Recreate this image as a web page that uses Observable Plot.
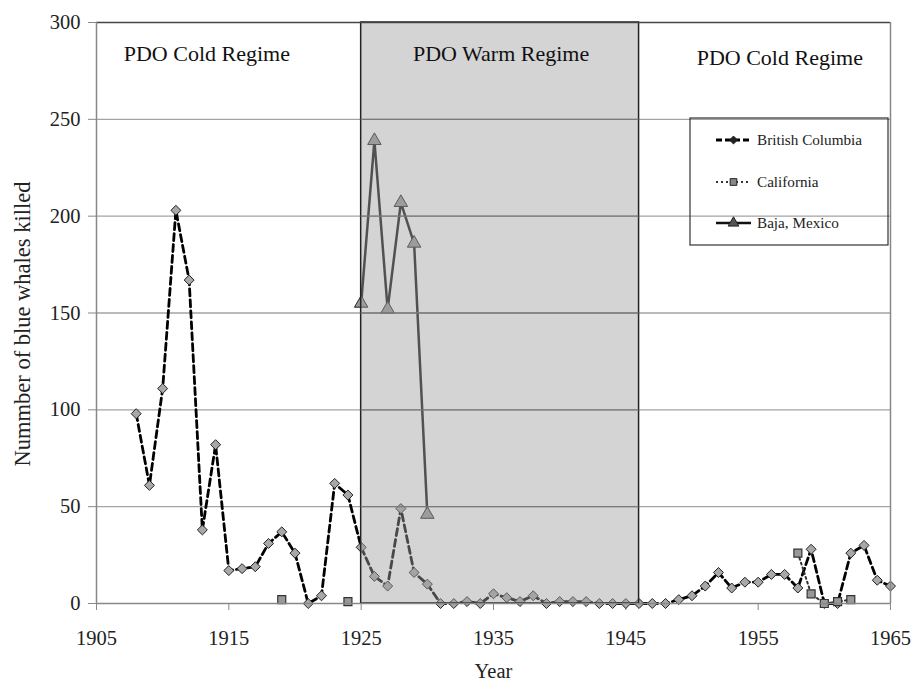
<!DOCTYPE html>
<html><head><meta charset="utf-8">
<script src="https://cdn.jsdelivr.net/npm/d3@7"></script>
<script src="https://cdn.jsdelivr.net/npm/@observablehq/plot@0.6"></script>
<style>body{margin:0;background:#fff} svg text{font-family:'Liberation Serif','Times New Roman',Times,serif}</style>
</head><body><div id="chart"></div>
<script>
// ---- data ----
const bcYears = [1908,1909,1910,1911,1912,1913,1914,1915,1916,1917,
  1918,1919,1920,1921,1922,1923,1924,1925,1926,1927,
  1928,1929,1930,1931,1932,1933,1934,1935,1936,1937,
  1938,1939,1940,1941,1942,1943,1944,1945,1946,1947,
  1948,1949,1950,1951,1952,1953,1954,1955,1956,1957,
  1958,1959,1960,1961,1962,1963,1964,1965];
const bcValues = [98,61,111,203,167,38,82,17,18,19,
  31,37,26,0,4,62,56,29,14,9,
  49,16,10,0,0,1,0,5,3,1,
  4,0,1,1,1,0,0,0,0,0,
  0,2,4,9,16,8,11,11,15,15,
  8,28,0,0,26,30,12,9];
const calYears = [1919,1924,1958,1959,1960,1961,1962];
const calValues = [2,1,26,5,0,1,2];
const bajaYears = [1925,1926,1927,1928,1929,1930];
const bajaValues = [155,239,152,207,186,46];
const regimeNames = ["PDO Cold Regime","PDO Warm Regime","PDO Cold Regime"];
const regimeStart = [1905,1925,1946];
const regimeEnd = [1925,1946,1965];
const xTicks = [1905,1915,1925,1935,1945,1955,1965];
const yTicks = [0,50,100,150,200,250,300];
const seriesNames = ["British Columbia","California","Baja, Mexico"];
const yLabel = "Nummber of blue whales killed";
const xLabel = "Year";

// ---- derived tables ----
const bc = bcYears.map((y,i)=>({year:y, value:bcValues[i]}));
let seg = 0;
const cal = calYears.map((y,i)=>{ if(i>0 && y-calYears[i-1]>1) seg++; return {year:y, value:calValues[i], seg}; });
const baja = bajaYears.map((y,i)=>({year:y, value:bajaValues[i]}));
const regimes = regimeNames.map((n,i)=>({name:n, start:regimeStart[i], end:regimeEnd[i], mid:(regimeStart[i]+regimeEnd[i])/2}));
const warm = regimes.filter(r=>r.name.includes("Warm"));
const grid = yTicks.filter(v=>v>0 && v<300);

const fontFam = "Liberation Serif";

const plot = Plot.plot({
  width: 914, height: 681,
  marginLeft: 96, marginRight: 24, marginTop: 22, marginBottom: 78,
  style: {fontFamily: fontFam, fontSize: "20px", color: "#222", background: "#fff"},
  x: {domain: [1905,1965], label: null},
  y: {domain: [0,300], label: null},
  marks: [
    Plot.ruleY(grid, {stroke: "#a3a3a3", strokeWidth: 1.3}),
    Plot.axisY({ticks: yTicks, tickSize: 8, tickPadding: 8, stroke: "#888", fill: "#222", fontSize: 20.5, fontFamily: fontFam, label: null}),
    Plot.axisX({ticks: xTicks, tickSize: 7, tickPadding: 20, stroke: "#888", fill: "#222", fontSize: 20.5, fontFamily: fontFam, tickFormat: d=>String(d), label: null}),
    // British Columbia
    Plot.line(bc, {x: "year", y: "value", stroke: "#000", strokeWidth: 2.8, strokeDasharray: "7,4"}),
    Plot.dot(bc, {x: "year", y: "value", symbol: "diamond2", r: 4.5, fill: "#a8a8a8", stroke: "#222", strokeWidth: 1}),
    // California
    Plot.line(cal, {x: "year", y: "value", z: "seg", stroke: "#333", strokeWidth: 2, strokeDasharray: "2,3"}),
    Plot.dot(cal, {x: "year", y: "value", symbol: "square", r: 4.5, fill: "#999", stroke: "#333", strokeWidth: 1.2}),
    // Baja
    Plot.line(baja, {x: "year", y: "value", stroke: "#111", strokeWidth: 2.5}),
    Plot.dot(baja, {x: "year", y: "value", symbol: "triangle", r: 5, fill: "#999", stroke: "#222", strokeWidth: 1}),
    // warm regime overlay
    Plot.rect(warm, {x1: "start", x2: "end", fill: "#a0a0a0", fillOpacity: 0.45, stroke: "#222", strokeWidth: 1.5}),
    Plot.ruleY(grid, {x1: () => warm[0].start, x2: () => warm[0].end, stroke: "#7a7a7a", strokeWidth: 1.3}),
    // frame
    Plot.ruleY([300], {stroke: "#444", strokeWidth: 1.5}),
    Plot.ruleX([1965], {stroke: "#888", strokeWidth: 1.5}),
    Plot.ruleX([1905], {stroke: "#888", strokeWidth: 1.5}),
    Plot.ruleY([0], {stroke: "#888", strokeWidth: 1.5}),
    // regime labels
    Plot.text(regimes.slice(0,1), {x: "mid", text: "name", frameAnchor: "top", dy: 31, dx: -22, fontSize: 22, fontFamily: fontFam, fill: "#111", lineAnchor: "middle", textAnchor: "middle"}),
    Plot.text(regimes.slice(1,2), {x: "mid", text: "name", frameAnchor: "top", dy: 31, dx: 1, fontSize: 22, fontFamily: fontFam, fill: "#111", lineAnchor: "middle", textAnchor: "middle"}),
    Plot.text(regimes.slice(2,3), {x: "mid", text: "name", frameAnchor: "top", dy: 35, dx: 15, fontSize: 22, fontFamily: fontFam, fill: "#111", lineAnchor: "middle", textAnchor: "middle"}),
    // axis titles
    Plot.text([yLabel], {text: d=>d, frameAnchor: "left", dx: -74, dy: 11, rotate: -90, fontSize: 22.5, fontFamily: fontFam, fill: "#222", lineAnchor: "middle", textAnchor: "middle"}),
    Plot.text([xLabel], {text: d=>d, frameAnchor: "bottom", dy: 68, fontSize: 20.5, fontFamily: fontFam, fill: "#222", lineAnchor: "middle", textAnchor: "middle"})
  ]
});

// ---- legend ----
const svg = d3.select(plot);
const lg = svg.append("g").attr("font-family", fontFam).attr("text-anchor", "start");
lg.append("rect").attr("x", 690).attr("y", 118).attr("width", 198).attr("height", 127)
  .attr("fill", "none").attr("stroke", "#333").attr("stroke-width", 1.2);
const rowsY = [140, 182, 223];
const styles = [
  {stroke:"#000", w:2.8, dash:"6,3", sym:d3.symbolDiamond2, size:40, fill:"#222"},
  {stroke:"#333", w:2, dash:"2,3", sym:d3.symbolSquare, size:45, fill:"#888"},
  {stroke:"#111", w:2.5, dash:null, sym:d3.symbolTriangle, size:50, fill:"#555"}
];
seriesNames.forEach((name,i)=>{
  const s = styles[i], yy = rowsY[i];
  const l = lg.append("line").attr("x1", 716).attr("x2", 751).attr("y1", yy).attr("y2", yy)
    .attr("stroke", s.stroke).attr("stroke-width", s.w);
  if (s.dash) l.attr("stroke-dasharray", s.dash);
  lg.append("path").attr("d", d3.symbol(s.sym, s.size)()).attr("transform", `translate(733.5,${yy})`)
    .attr("fill", s.fill).attr("stroke", "#222").attr("stroke-width", 1);
  lg.append("text").attr("x", 757).attr("y", yy + 5).attr("font-size", 15.2).attr("text-anchor", "start")
    .attr("fill", "#222").text(name);
});

document.getElementById("chart").appendChild(plot);
</script>
</body></html>
